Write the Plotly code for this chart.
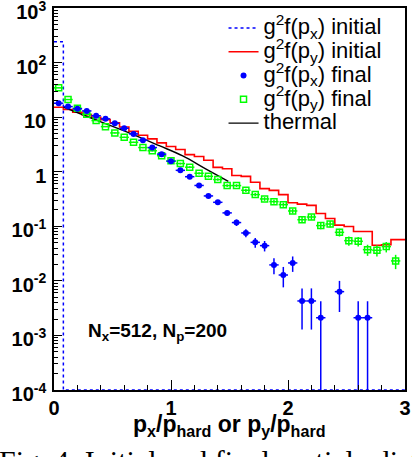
import plotly.graph_objects as go

# ---- data ----
bin_width = 0.08
n_bins = 38
bin_edges = [round(k * bin_width, 2) for k in range(n_bins + 1)]
bin_centers = [round((k + 0.5) * bin_width, 2) for k in range(n_bins)]

# g^2 f(p_x) initial (delta-like in the first bin, empty elsewhere)
px_initial = [240] + [0] * 37

# g^2 f(p_y) initial (histogram)
py_initial = [15.2, 13.8, 12.3, 11.1, 9.95, 9.0, 7.85, 6.6, 5.5, 4.66,
              4.0, 3.38, 2.9, 2.55, 2.06, 1.9, 1.62, 1.2, 1.13, 0.85,
              0.82, 0.64, 0.49, 0.455, 0.38, 0.27, 0.255, 0.242, 0.172, 0.139,
              0.105, 0.099, 0.080, 0.080, 0.045, 0.046, 0.057, 0.057]

# g^2 f(p_x) final (points, None = empty bin)
px_final = [18.0, 15.6, 14.2, 13.0, 10.6, 9.3, 7.7, 6.25, 4.93, 3.77,
            2.77, 2.1, 1.56, 1.06, 0.81, 0.56, 0.36, 0.275, 0.176, 0.117,
            0.0755, 0.0508, 0.0442, 0.0196, 0.0128, 0.0213, 0.00428, 0.00428, 0.00211, None,
            0.00634, None, 0.00211, 0.00211]
px_final_err = [0.19, 0.18, 0.17, 0.165, 0.15, 0.14, 0.127, 0.115, 0.10, 0.089,
                0.076, 0.066, 0.057, 0.047, 0.041, 0.034, 0.0275, 0.024, 0.019, 0.0157,
                0.0126, 0.0103, 0.0096, 0.0064, 0.0052, 0.0067, 0.0030, 0.0030, 0.00211, 0,
                0.00365, 0, 0.00211, 0.00211]

# g^2 f(p_y) final (points)
py_final = [34.4, 21.0, 14.5, 11.3, 8.65, 6.7, 5.14, 4.27, 3.46, 2.77,
            2.42, 1.96, 1.58, 1.41, 1.21, 0.936, 0.824, 0.718, 0.557, 0.557,
            0.457, 0.381, 0.317, 0.283, 0.249, 0.191, 0.132, 0.148, 0.103, 0.110,
            0.0775, 0.0546, 0.0531, 0.0373, 0.0363, 0.0424, 0.0232]
py_final_err = [0.26, 0.205, 0.17, 0.15, 0.13, 0.116, 0.10, 0.092, 0.083, 0.074,
                0.07, 0.063, 0.056, 0.053, 0.049, 0.043, 0.041, 0.038, 0.033, 0.033,
                0.030, 0.0276, 0.025, 0.0238, 0.0223, 0.0195, 0.0162, 0.0172, 0.0144, 0.0148,
                0.0125, 0.0105, 0.0103, 0.0086, 0.0085, 0.0092, 0.0068]

# thermal curve
thermal_x = [0.08, 0.3, 0.6, 0.9, 1.1, 1.3, 1.49]
thermal_y = [15.2, 9.95, 5.6, 3.0, 1.95, 1.12, 0.667]

y_tickvals = [1e-4, 1e-3, 1e-2, 1e-1, 1, 10, 100, 1000]
y_ticktext = ["10<sup>-4</sup>", "10<sup>-3</sup>", "10<sup>-2</sup>", "10<sup>-1</sup>",
              "1", "10", "10<sup>2</sup>", "10<sup>3</sup>"]
x_tickvals = [0, 1, 2, 3]
x_ticktext = ["0", "1", "2", "3"]

legend_names = {
    "px_initial": "g<sup>2</sup>f(p<sub>x</sub>) initial",
    "py_initial": "g<sup>2</sup>f(p<sub>y</sub>) initial",
    "px_final": "g<sup>2</sup>f(p<sub>x</sub>) final",
    "py_final": "g<sup>2</sup>f(p<sub>y</sub>) final",
    "thermal": "thermal",
}

y_floor = 1e-4  # empty bins drawn at the bottom of the log axis

FONT = "Liberation Sans"

def big(txt):
    return '<span style="font-size:22px">' + txt + "</span>"

def step_xy(values):
    xs = bin_edges[:-1] + [bin_edges[-1]]
    ys = [v if v > 0 else y_floor for v in values]
    ys = ys + [ys[-1]]
    return xs, ys

fig = go.Figure()

sx, sy = step_xy(px_initial)
fig.add_trace(go.Scatter(x=sx, y=sy, mode="lines", line_shape="hv",
                         line=dict(color="#0000ff", width=1.5, dash="dot"),
                         name=big(legend_names["px_initial"]), legendrank=1))

sx, sy = step_xy(py_initial)
fig.add_trace(go.Scatter(x=sx, y=sy, mode="lines", line_shape="hv",
                         line=dict(color="#ff0000", width=1.6),
                         name=big(legend_names["py_initial"]), legendrank=2))

fig.add_trace(go.Scatter(x=thermal_x, y=thermal_y, mode="lines",
                         line=dict(color="black", width=1.4, shape="spline"),
                         name=big(legend_names["thermal"]), legendrank=5))

fig.add_trace(go.Scatter(x=bin_centers[:len(py_final)], y=py_final, mode="markers",
                         marker=dict(symbol="square-open", size=6, color="#00ff00",
                                     line=dict(width=1.5, color="#00ff00")),
                         error_y=dict(type="data", array=py_final_err, color="#00ff00",
                                      thickness=1.5, width=0),
                         error_x=dict(type="constant", value=bin_width / 2, color="#00ff00",
                                      thickness=1.5, width=0),
                         name=big(legend_names["py_final"]), legendrank=4))

fig.add_trace(go.Scatter(x=bin_centers[:len(px_final)], y=px_final, mode="markers",
                         marker=dict(symbol="circle", size=6, color="#0000ff"),
                         error_y=dict(type="data", array=px_final_err, color="#0000ff",
                                      thickness=1.5, width=0),
                         error_x=dict(type="constant", value=bin_width / 2, color="#0000ff",
                                      thickness=1.5, width=0),
                         name=big(legend_names["px_final"]), legendrank=3))

fig.update_layout(
    width=412, height=457,
    margin=dict(l=54, r=7, t=8, b=67, autoexpand=False),
    paper_bgcolor="white", plot_bgcolor="white",
    font=dict(family=FONT, color="black"),
    showlegend=True,
    legend=dict(x=0.483, y=0.992, xanchor="left", yanchor="top",
                font=dict(family=FONT, size=16, color="black"),
                bgcolor="rgba(255,255,255,0)", itemwidth=30, tracegroupgap=0),
    xaxis=dict(range=[0, 3], tickvals=x_tickvals, ticktext=x_ticktext,
               ticks="inside", ticklen=10, tickwidth=1, tickcolor="black",
               minor=dict(ticks="inside", ticklen=5, dtick=0.2, tickcolor="black", tickwidth=1),
               showline=True, linecolor="black", linewidth=1.5, mirror=True,
               showgrid=False, zeroline=False, ticklabeloverflow="allow",
               automargin=False, ticklabelstandoff=-1,
               tickfont=dict(family=FONT, size=20, weight="bold")),
    yaxis=dict(type="log", range=[-4, 3], tickvals=y_tickvals, ticktext=y_ticktext,
               ticks="inside", ticklen=8, tickwidth=1, tickcolor="black",
               minor=dict(ticks="inside", ticklen=4, dtick="D1", tickcolor="black", tickwidth=1),
               showline=True, linecolor="black", linewidth=1.5, mirror=True,
               showgrid=False, zeroline=False, ticklabeloverflow="allow",
               automargin=False, ticklabelstandoff=2, ticklabelshift=4,
               tickfont=dict(family=FONT, size=20, weight="bold")),
)

# x-axis title
fig.add_annotation(text="p<sub>x</sub>/p<sub>hard</sub> or p<sub>y</sub>/p<sub>hard</sub>",
                   xref="paper", yref="paper", x=0.5, y=-0.05,
                   xanchor="center", yanchor="top", showarrow=False,
                   font=dict(family=FONT, size=23, weight="bold", color="black"))

fig.add_annotation(text="N<sub>x</sub>=512, N<sub>p</sub>=200", xref="paper", yref="paper",
                   x=0.092, y=0.153, xanchor="left", yanchor="middle", showarrow=False,
                   font=dict(family=FONT, size=19, weight="bold", color="black"))

fig.add_annotation(text="Fig. 4: Initial and final particle distributions",
                   xref="paper", yref="paper", x=-0.162, y=-0.136,
                   xanchor="left", yanchor="top", showarrow=False, align="left",
                   font=dict(family="Liberation Serif", size=30, color="black"))

fig.write_html("out.html", config={"displayModeBar": False},
               post_script="document.body.style.margin='0px';"
                           "document.body.style.overflow='hidden';")
